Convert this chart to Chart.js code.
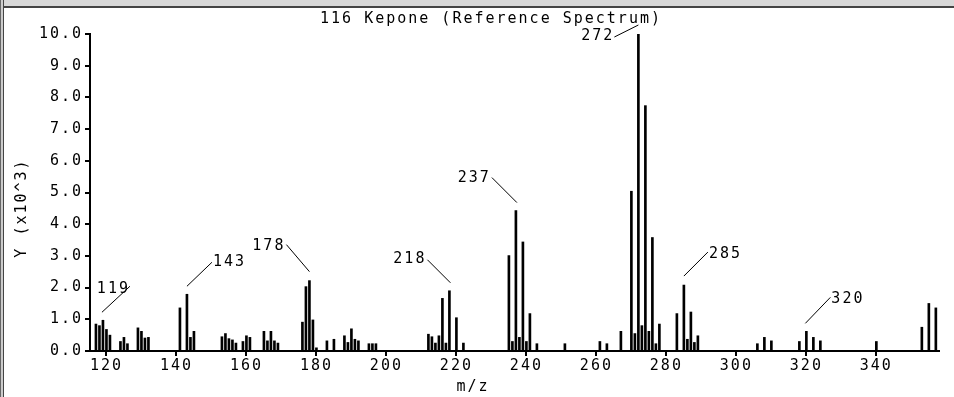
<!DOCTYPE html>
<html>
<head>
<meta charset="utf-8">
<script src="https://cdn.jsdelivr.net/npm/chart.js@4.4.1/dist/chart.umd.min.js"></script>
<style>
  html, body { margin: 0; padding: 0; background: #fff; }
  #wrap { position: relative; width: 954px; height: 397px; overflow: hidden; }
  #topband { position: absolute; left: 0; top: 0; width: 954px; height: 6px; background: #d8d8d8; border-bottom: 2px solid #444; }
  #leftband { position: absolute; left: 0; top: 0; width: 2px; height: 397px; border-left: 1px solid #666; border-right: 1px solid #444; background: #ccc; }
  canvas { position: absolute; left: 0; top: 0; }
</style>
</head>
<body>
<div id="wrap">
  <canvas id="c" width="954" height="397"></canvas>
  <div id="topband"></div>
  <div id="leftband"></div>
</div>
<script>
// ---- data ----
const chartTitle = "116 Kepone (Reference Spectrum)";
const xTitle = "m/z";
const yTitle = "Y (x10^3)";
const mz = [117,118,119,120,121,124,125,126,129,130,131,132,141,143,144,145,153,154,155,156,157,159,160,161,165,166,167,168,169,176,177,178,179,180,183,185,188,189,190,191,192,195,196,197,212,213,214,215,216,217,218,220,222,235,236,237,238,239,240,241,243,251,261,263,267,270,271,272,273,274,275,276,277,278,283,285,286,287,288,289,306,308,310,318,320,322,324,340,353,355,357];
const intensity = [0.85,0.80,0.97,0.68,0.50,0.30,0.43,0.23,0.73,0.62,0.41,0.43,1.36,1.79,0.43,0.62,0.45,0.55,0.39,0.35,0.25,0.30,0.48,0.43,0.62,0.32,0.62,0.32,0.25,0.91,2.03,2.22,0.98,0.10,0.32,0.37,0.48,0.27,0.70,0.37,0.32,0.23,0.23,0.23,0.53,0.45,0.25,0.48,1.66,0.25,1.90,1.05,0.25,3.01,0.30,4.43,0.43,3.44,0.30,1.18,0.23,0.23,0.30,0.23,0.62,5.04,0.55,10.0,0.80,7.74,0.62,3.58,0.23,0.85,1.18,2.08,0.37,1.23,0.27,0.48,0.23,0.43,0.32,0.30,0.62,0.43,0.32,0.30,0.75,1.50,1.36];
const labeledPeaks = [119,143,178,218,237,272,285,320];
const xTickValues = [120,140,160,180,200,220,240,260,280,300,320,340];
const yTickValues = [0,1,2,3,4,5,6,7,8,9,10];

// ---- styling / layout ----
const FONT = "'DejaVu Sans Mono', 'Liberation Mono', monospace";
const SPACING = '2px';
// leader line + label offsets relative to the bar top (pixels)
const labelLayout = {
  119: {a:[-1,-8], b:[27,-34], t:[27,-31], align:'right'},
  143: {a:[0,-8],  b:[25,-32], t:[26,-32], align:'left'},
  178: {a:[0,-9],  b:[-23,-36], t:[-24,-35], align:'right'},
  218: {a:[1,-8],  b:[-22,-31], t:[-23,-32], align:'right'},
  237: {a:[1,-8],  b:[-24,-33], t:[-25,-32], align:'right'},
  272: {a:[0,-9],  b:[-24,3],  t:[-24,2],   align:'right'},
  285: {a:[0,-9],  b:[24,-33], t:[25,-31], align:'left'},
  320: {a:[-1,-8], b:[24,-34], t:[25,-32], align:'left'}
};

const annotate = {
  id: 'annotate',
  beforeDraw(chart) {
    chart.ctx.letterSpacing = SPACING;
  },
  afterDraw(chart) {
    const ctx = chart.ctx;
    const xs = chart.scales.x, ys = chart.scales.y;
    ctx.save();
    ctx.letterSpacing = SPACING;
    ctx.fillStyle = '#000';
    ctx.strokeStyle = '#000';
    ctx.font = "15px " + FONT;
    ctx.textAlign = 'center';
    ctx.textBaseline = 'middle';
    ctx.fillText(chartTitle, 491, 19);
    ctx.fillText(xTitle, 473, 387);
    ctx.save();
    ctx.translate(22, 208);
    ctx.rotate(-Math.PI / 2);
    ctx.fillText(yTitle, 0, 0);
    ctx.restore();
    ctx.lineWidth = 1;
    labeledPeaks.forEach(p => {
      const i = mz.indexOf(p);
      if (i < 0) return;
      const bx = xs.getPixelForValue(mz[i]);
      const by = ys.getPixelForValue(intensity[i]);
      const L = labelLayout[p];
      ctx.beginPath();
      ctx.moveTo(bx + L.a[0], by + L.a[1]);
      ctx.lineTo(bx + L.b[0], by + L.b[1]);
      ctx.stroke();
      ctx.textAlign = L.align;
      ctx.textBaseline = 'middle';
      ctx.fillText(String(p), bx + L.t[0], by + L.t[1]);
    });
    ctx.restore();
  }
};

function axisCommon() {
  return {
    offset: false,
    grid: { display: true, offset: false, drawOnChartArea: false, drawTicks: true, tickLength: 5, color: '#000', lineWidth: 2 },
    border: { display: true, color: '#000', width: 2 }
  };
}

new Chart(document.getElementById('c').getContext('2d'), {
  type: 'bar',
  data: {
    datasets: [{
      data: mz.map((m, i) => ({ x: m, y: intensity[i] })),
      backgroundColor: '#000',
      borderWidth: 0,
      barThickness: 2
    }]
  },
  options: {
    responsive: false,
    animation: false,
    devicePixelRatio: 1,
    layout: { padding: { top: 34, right: 15, left: 0, bottom: 0 } },
    plugins: { legend: { display: false }, tooltip: { enabled: false }, title: { display: false } },
    scales: {
      x: Object.assign(axisCommon(), {
        type: 'linear',
        min: 115.3,
        max: 357.9,
        afterFit(s) { s.height = 46; },
        afterBuildTicks(s) { s.ticks = xTickValues.map(v => ({ value: v })); },
        ticks: { color: '#000', font: { family: FONT, size: 15 }, padding: 1, maxRotation: 0, autoSkip: false, includeBounds: false }
      }),
      y: Object.assign(axisCommon(), {
        type: 'linear',
        min: 0,
        max: 10,
        afterFit(s) { s.width = 90; },
        afterBuildTicks(s) { s.ticks = yTickValues.map(v => ({ value: v })); },
        ticks: { color: '#000', font: { family: FONT, size: 15 }, padding: 2, callback: v => Number(v).toFixed(1) }
      })
    }
  },
  plugins: [annotate]
});
</script>
</body>
</html>
